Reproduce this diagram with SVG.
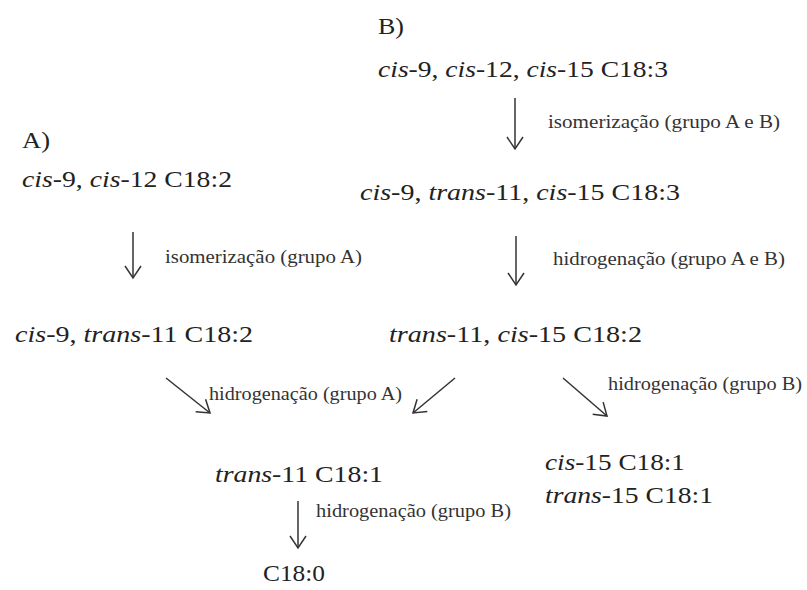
<svg xmlns="http://www.w3.org/2000/svg" width="807" height="590" viewBox="0 0 807 590" font-family="'Liberation Serif', 'Times New Roman', Times, serif">
<style>
  text { font-family: 'Liberation Serif', 'Times New Roman', Times, serif; fill: #222; }
  .main { font-size: 24px; }
  .lbl { font-size: 18.5px; fill: #333; }
  .i { font-style: italic; }
  .arr { stroke: #333; stroke-width: 1.5; fill: none; }
</style>
<defs>
  <marker id="head" markerUnits="userSpaceOnUse" viewBox="-16 -10 20 20" refX="0" refY="0" markerWidth="20" markerHeight="20" orient="auto" overflow="visible">
    <path d="M -12 -8 L 0 0 L -12 8" fill="none" stroke="#333" stroke-width="1.5" stroke-linejoin="miter"/>
  </marker>
</defs>
<rect width="807" height="590" fill="#fff"/>

<g id="labelB"><text class="main" x="378" y="34" textLength="26" lengthAdjust="spacingAndGlyphs">B)</text></g>
<g id="n_c18_3_ccc"><text class="main" x="378" y="77" textLength="290" lengthAdjust="spacingAndGlyphs"><tspan class="i">cis</tspan>-9, <tspan class="i">cis</tspan>-12, <tspan class="i">cis</tspan>-15 C18:3</text></g>
<g id="n_c18_3_ctc"><text class="main" x="360" y="200" textLength="320" lengthAdjust="spacingAndGlyphs"><tspan class="i">cis</tspan>-9, <tspan class="i">trans</tspan>-11, <tspan class="i">cis</tspan>-15 C18:3</text></g>
<g id="labelA"><text class="main" x="22" y="148" textLength="28" lengthAdjust="spacingAndGlyphs">A)</text></g>
<g id="n_c18_2_cc"><text class="main" x="22" y="187" textLength="210" lengthAdjust="spacingAndGlyphs"><tspan class="i">cis</tspan>-9, <tspan class="i">cis</tspan>-12 C18:2</text></g>
<g id="n_c18_2_ct"><text class="main" x="15" y="342" textLength="238" lengthAdjust="spacingAndGlyphs"><tspan class="i">cis</tspan>-9, <tspan class="i">trans</tspan>-11 C18:2</text></g>
<g id="n_c18_2_tc"><text class="main" x="389" y="342" textLength="253" lengthAdjust="spacingAndGlyphs"><tspan class="i">trans</tspan>-11, <tspan class="i">cis</tspan>-15 C18:2</text></g>
<g id="n_c18_1_t11"><text class="main" x="215" y="482" textLength="168" lengthAdjust="spacingAndGlyphs"><tspan class="i">trans</tspan>-11 C18:1</text></g>
<g id="n_c18_1_15">
  <text class="main" x="545" y="470" textLength="140" lengthAdjust="spacingAndGlyphs"><tspan class="i">cis</tspan>-15 C18:1</text>
  <text class="main" x="545" y="503" textLength="168" lengthAdjust="spacingAndGlyphs"><tspan class="i">trans</tspan>-15 C18:1</text>
</g>
<g id="n_c18_0"><text class="main" x="263" y="581" textLength="62" lengthAdjust="spacingAndGlyphs">C18:0</text></g>

<g id="connectors">
  <line class="arr" x1="515" y1="98" x2="515" y2="149" marker-end="url(#head)"/>
  <line class="arr" x1="516" y1="236" x2="516" y2="285" marker-end="url(#head)"/>
  <line class="arr" x1="133" y1="232" x2="133" y2="278" marker-end="url(#head)"/>
  <line class="arr" x1="166" y1="378" x2="210" y2="413" marker-end="url(#head)"/>
  <line class="arr" x1="455" y1="378" x2="413" y2="413" marker-end="url(#head)"/>
  <line class="arr" x1="563" y1="378" x2="607" y2="416" marker-end="url(#head)"/>
  <line class="arr" x1="298" y1="501" x2="298" y2="548" marker-end="url(#head)"/>
  <text class="lbl" x="548" y="128" textLength="232" lengthAdjust="spacingAndGlyphs">isomerização (grupo A e B)</text>
  <text class="lbl" x="553" y="265" textLength="232" lengthAdjust="spacingAndGlyphs">hidrogenação (grupo A e B)</text>
  <text class="lbl" x="165" y="263" textLength="197" lengthAdjust="spacingAndGlyphs">isomerização (grupo A)</text>
  <text class="lbl" x="209" y="400" textLength="193" lengthAdjust="spacingAndGlyphs">hidrogenação (grupo A)</text>
  <text class="lbl" x="608" y="390" textLength="194" lengthAdjust="spacingAndGlyphs">hidrogenação (grupo B)</text>
  <text class="lbl" x="316" y="517" textLength="195" lengthAdjust="spacingAndGlyphs">hidrogenação (grupo B)</text>
</g>
</svg>
